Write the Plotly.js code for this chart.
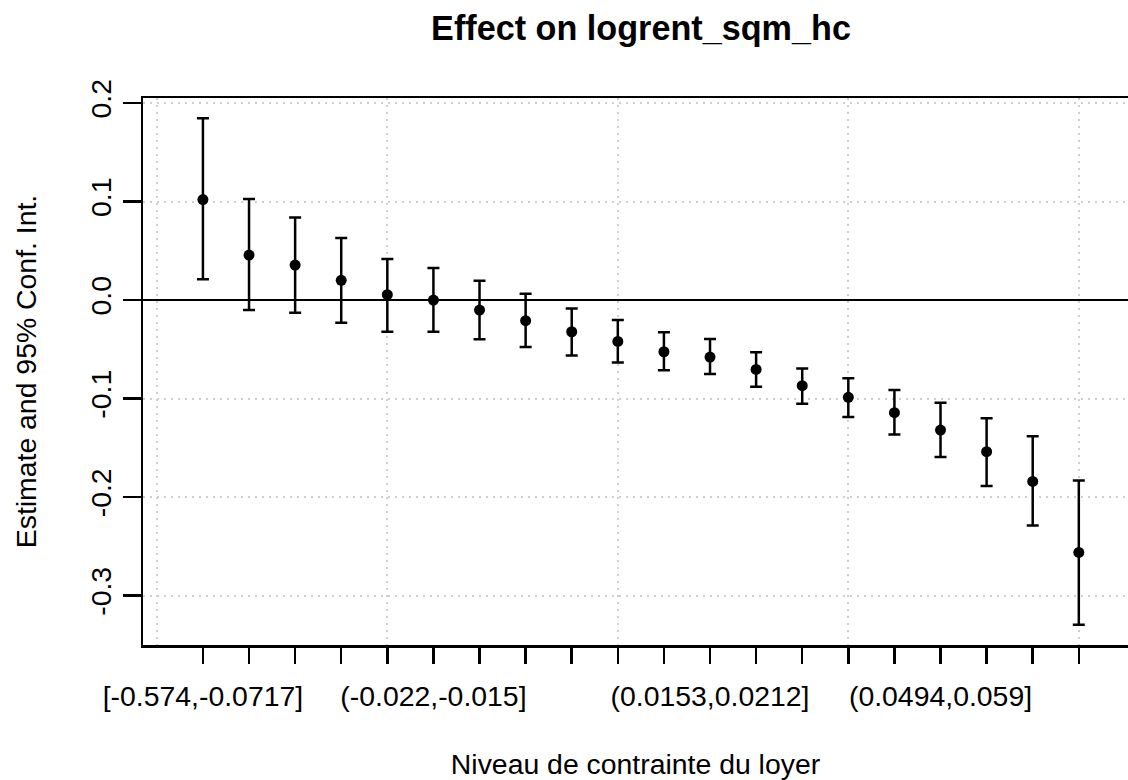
<!DOCTYPE html>
<html>
<head>
<meta charset="utf-8">
<script src="https://cdn.plot.ly/plotly-3.0.1.min.js"></script>
<style>html,body{margin:0;padding:0;background:#fff;}#chart{width:1128px;height:780px;}</style>
</head>
<body>
<div id="chart"></div>
<script>
// Bin positions (1..20) of "Niveau de contrainte du loyer"
const binIndex = [1,2,3,4,5,6,7,8,9,10,11,12,13,14,15,16,17,18,19,20];
// Tick labels: only the labels R could draw without overlap are visible
const tickLabels = ["[-0.574,-0.0717]","","","","","(-0.022,-0.015]","","","","","",
  "(0.0153,0.0212]","","","","","(0.0494,0.059]","","",""];
// Point estimates
const estimate = [0.1020,0.0457,0.0355,0.0200,0.0054,0.0000,-0.0102,-0.0210,-0.0322,-0.0420,
  -0.0525,-0.0579,-0.0704,-0.0870,-0.0988,-0.1144,-0.1320,-0.1540,-0.1841,-0.2562];
// 95% confidence interval bounds
const ciUpper = [0.1845,0.1025,0.0839,0.0629,0.0416,0.0325,0.0196,0.0064,-0.0085,-0.0203,
  -0.0328,-0.0396,-0.0531,-0.0694,-0.0795,-0.0914,-0.1042,-0.1201,-0.1384,-0.1831];
const ciLower = [0.0210,-0.0102,-0.0129,-0.0230,-0.0322,-0.0322,-0.0399,-0.0477,-0.0562,-0.0633,
  -0.0714,-0.0751,-0.0880,-0.1052,-0.1188,-0.1364,-0.1594,-0.1888,-0.2288,-0.3296];
// y-axis tick values / labels
const yTickVals = [-0.3,-0.2,-0.1,0,0.1,0.2];
const yTickText = ["-0.3","-0.2","-0.1","0.0","0.1","0.2"];
// vertical grid positions (R's grid())
const xGridVals = [0,5,10,15,20];

const FONT = "Liberation Sans, Arial, Helvetica, sans-serif";
const FS = 28.4;
const errUp = ciUpper.map((u,i)=>u-estimate[i]);
const errDn = ciLower.map((l,i)=>estimate[i]-l);

const xRange = [-0.30, 21.067];
const yRange = [-0.3502, 0.2051];

const traces = [
  { // invisible anchor trace so the grid/box axis is drawn
    type: 'scatter', mode: 'markers', x: [xGridVals[0]], y: [yTickVals[0]],
    xaxis: 'x', yaxis: 'y', marker: {opacity: 0, size: 1},
    hoverinfo: 'skip', showlegend: false
  },
  {
    type: 'scatter', mode: 'markers',
    x: binIndex, y: estimate,
    xaxis: 'x2', yaxis: 'y',
    marker: {color: '#000', size: 11},
    error_y: {type: 'data', symmetric: false, array: errUp, arrayminus: errDn,
              color: '#000', thickness: 2.5, width: 6},
    hoverinfo: 'x+y', showlegend: false
  }
];

const layout = {
  width: 1128, height: 780,
  margin: {l: 143, r: 0, t: 98, b: 135, pad: 0},
  paper_bgcolor: '#fff', plot_bgcolor: '#fff',
  font: {family: FONT, color: '#000', size: FS},
  showlegend: false,
  title: {
    text: '<b>Effect on logrent_sqm_hc</b>',
    font: {family: FONT, size: 34.2, color: '#000'},
    xref: 'container', x: 641/1128, xanchor: 'center',
    yref: 'container', y: 1 - 16/780, yanchor: 'top'
  },
  xaxis: {
    range: xRange, domain: [0,1], anchor: 'y',
    tickvals: xGridVals, showticklabels: false, ticks: '',
    showgrid: true, gridcolor: '#cfcfcf', gridwidth: 2, griddash: '2px,5px',
    zeroline: false,
    showline: true, linecolor: '#000', linewidth: 2.5, mirror: true,
    automargin: false, fixedrange: true
  },
  xaxis2: {
    range: xRange, overlaying: 'x', anchor: 'y', side: 'bottom',
    tickmode: 'array', tickvals: binIndex, ticktext: tickLabels,
    ticks: 'outside', ticklen: 18, tickwidth: 2.5, tickcolor: '#000',
    tickangle: 0, tickfont: {family: FONT, size: FS, color: '#000'},
    ticklabelstandoff: 8,
    showgrid: false, zeroline: false, showline: false,
    automargin: false, fixedrange: true,
    title: {text: 'Niveau de contrainte du loyer', font: {family: FONT, size: FS, color: '#000'}, standoff: 45}
  },
  yaxis: {
    range: yRange, domain: [0,1],
    tickmode: 'array', tickvals: yTickVals, ticktext: yTickText,
    ticks: 'outside', ticklen: 18, tickwidth: 2.5, tickcolor: '#000',
    tickangle: -90, tickfont: {family: FONT, size: FS, color: '#000'},
    showgrid: true, gridcolor: '#cfcfcf', gridwidth: 2, griddash: '2px,5px',
    zeroline: true, zerolinecolor: '#000', zerolinewidth: 2.5,
    showline: true, linecolor: '#000', linewidth: 2.5, mirror: false,
    automargin: false, fixedrange: true,
    title: {text: 'Estimate and 95% Conf. Int.', font: {family: FONT, size: FS, color: '#000'}, standoff: 40}
  }
};

Plotly.newPlot('chart', traces, layout, {displayModeBar: false, staticPlot: true});
</script>
</body>
</html>
